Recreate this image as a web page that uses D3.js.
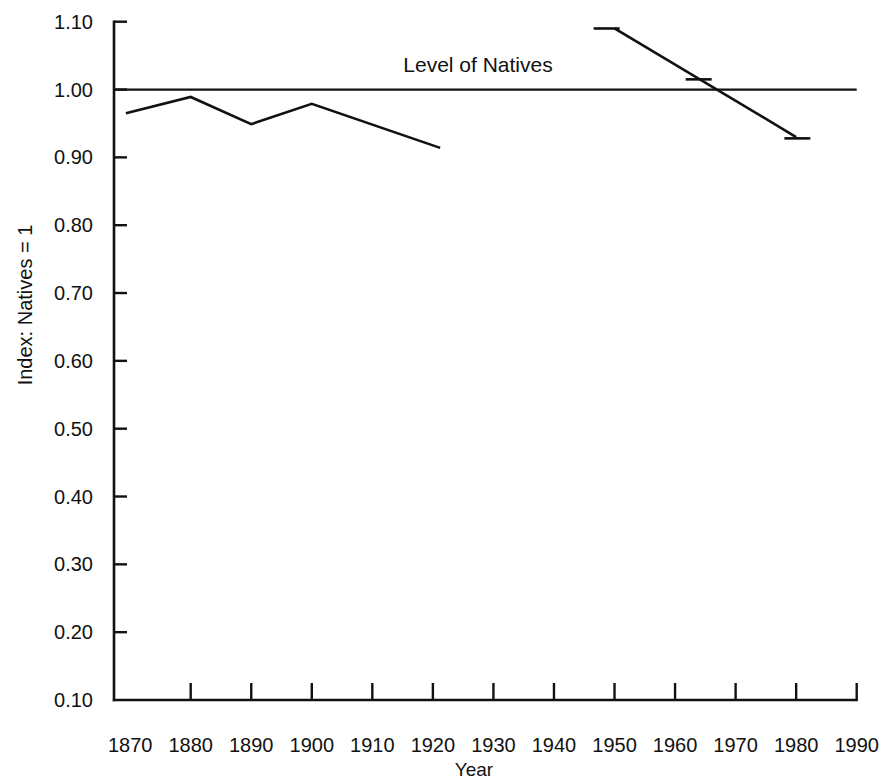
<!DOCTYPE html>
<html><head><meta charset="utf-8">
<script src="https://cdn.jsdelivr.net/npm/d3@7"></script>
<style>body{margin:0;background:#fff}svg{display:block}text{font-family:"Liberation Sans",Arial,Helvetica,sans-serif;fill:#111}</style>
</head><body><svg id="c" width="884" height="782"></svg>
<script>
// Data
const xTickYears = [1870,1880,1890,1900,1910,1920,1930,1940,1950,1960,1970,1980,1990];
const yTickValues = [0.10,0.20,0.30,0.40,0.50,0.60,0.70,0.80,0.90,1.00,1.10];
const earlyYears = [1869.3,1880,1890,1900,1921.2];
const earlyValues = [0.965,0.989,0.949,0.979,0.914];
const lateYears = [1950,1980];
const lateValues = [1.090,0.930];
const capYears = [1948.7,1963.9,1980.2];
const capValues = [1.090,1.015,0.928];
const nativeLevel = 1.00;
const refLabel = "Level of Natives";

const svg = d3.select("#c");
const x = d3.scaleLinear().domain([1880,1990]).range([190.7,856.7]);
const y = d3.scaleLinear().domain([0.1,1.1]).range([700,21.7]);
const axisLeftX = 114;
const ink = "#111";

// y axis line
svg.append("line").attr("x1",axisLeftX).attr("x2",axisLeftX)
  .attr("y1",y(1.1)-1.2).attr("y2",y(0.1)+1.2).attr("stroke",ink).attr("stroke-width",2.6);
// x axis line
svg.append("line").attr("x1",axisLeftX-1.2).attr("x2",x(1990)+1.2)
  .attr("y1",y(0.1)).attr("y2",y(0.1)).attr("stroke",ink).attr("stroke-width",2.6);

// y ticks
svg.selectAll(".yt").data(yTickValues.filter(v=>v>0.15)).enter().append("line")
  .attr("x1",axisLeftX).attr("x2",axisLeftX+13)
  .attr("y1",d=>y(d)).attr("y2",d=>y(d)).attr("stroke",ink).attr("stroke-width",2.4);
svg.selectAll(".yl").data(yTickValues).enter().append("text")
  .attr("x",93).attr("y",d=>y(d)+7).attr("text-anchor","end")
  .style("font-size","20px").text(d=>d3.format(".2f")(d));

// x ticks
svg.selectAll(".xt").data(xTickYears.filter(v=>v>1870)).enter().append("line")
  .attr("x1",d=>x(d)).attr("x2",d=>x(d))
  .attr("y1",y(0.1)).attr("y2",y(0.1)-17).attr("stroke",ink).attr("stroke-width",2.4);
svg.selectAll(".xl").data(xTickYears).enter().append("text")
  .attr("x",d=>x(d)).attr("y",752).attr("text-anchor","middle")
  .style("font-size","20px").text(d=>d);

// axis titles
svg.append("text").attr("x",474).attr("y",776).attr("text-anchor","middle")
  .style("font-size","19px").text("Year");
svg.append("text").attr("transform","translate(32,305) rotate(-90)").attr("text-anchor","middle")
  .style("font-size","20px").text("Index: Natives = 1");

// natives level
svg.append("line").attr("x1",axisLeftX).attr("x2",x(1990))
  .attr("y1",y(nativeLevel)).attr("y2",y(nativeLevel)).attr("stroke",ink).attr("stroke-width",2.2);
svg.append("text").attr("x",478).attr("y",72).attr("text-anchor","middle")
  .style("font-size","21px").text(refLabel);

// series
const line = d3.line().x(d=>x(d[0])).y(d=>y(d[1]));
svg.append("path").datum(earlyYears.map((v,i)=>[v,earlyValues[i]]))
  .attr("d",line).attr("fill","none").attr("stroke",ink).attr("stroke-width",2.6).attr("stroke-linejoin","miter");
svg.append("path").datum(lateYears.map((v,i)=>[v,lateValues[i]]))
  .attr("d",line).attr("fill","none").attr("stroke",ink).attr("stroke-width",2.6);
svg.selectAll(".cap").data(capYears.map((v,i)=>[v,capValues[i]])).enter().append("line")
  .attr("x1",d=>x(d[0])-13).attr("x2",d=>x(d[0])+13)
  .attr("y1",d=>y(d[1])).attr("y2",d=>y(d[1])).attr("stroke",ink).attr("stroke-width",2.6);
</script></body></html>
